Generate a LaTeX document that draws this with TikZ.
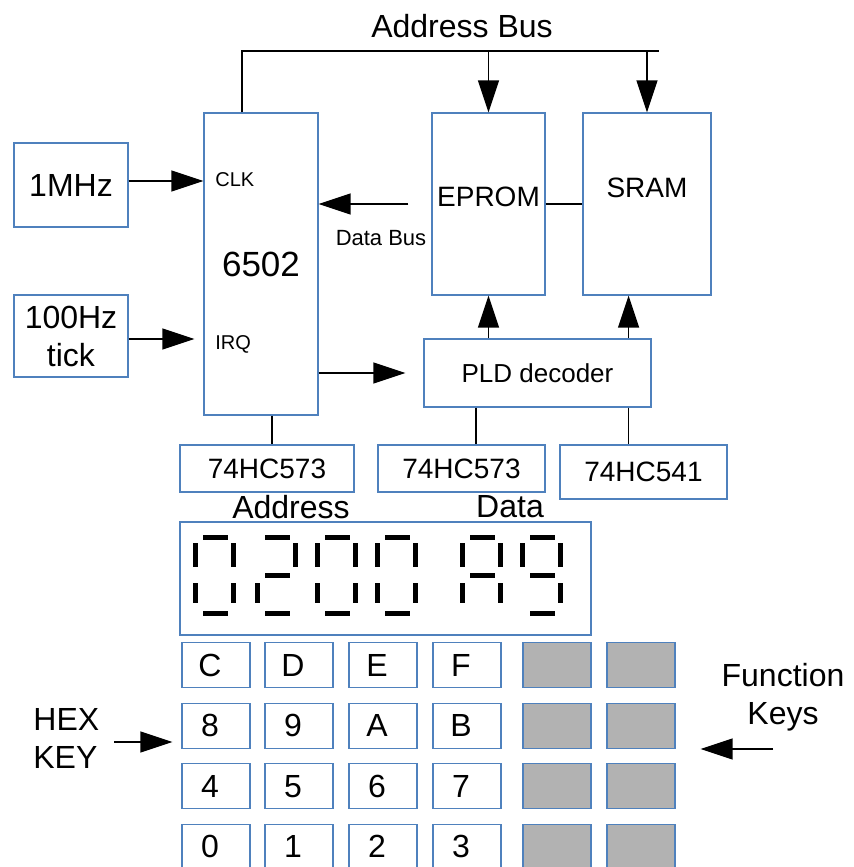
\documentclass[tikz,border=0pt]{standalone}
\usepackage{fontspec}
\setmainfont{Liberation Sans}
\usetikzlibrary{arrows.meta}
\definecolor{boxblue}{RGB}{79,129,189}
\definecolor{keygray}{RGB}{178,178,178}
\newcommand\fbig{\fontsize{16}{19}\selectfont}
\newcommand\fcpu{\fontsize{17.5}{21}\selectfont}
\newcommand\fmid{\fontsize{14}{17}\selectfont}
\newcommand\fpld{\fontsize{13}{16}\selectfont}
\newcommand\fdb{\fontsize{11}{13}\selectfont}
\newcommand\fpin{\fontsize{10}{12}\selectfont}
\tikzset{
  box/.style={draw=boxblue, line width=0.6pt, inner sep=0pt},
  key/.style={box, minimum width=34pt, minimum height=22.5pt, font=\fbig, execute at begin node=\hspace*{-6pt}},
  fkey/.style={box, fill=keygray, minimum width=34pt, minimum height=22.5pt},
  wire/.style={line width=0.65pt, black},
  arr/.style={-{Triangle[length=16pt,width=10.5pt]}},
  seg/.style={line width=2.5pt, black},
  seg a/.pic={\draw[seg] (8,0) -- (33,0);},
  seg b/.pic={\draw[seg] (38,6) -- (38,30);},
  seg c/.pic={\draw[seg] (38,46) -- (38,66);},
  seg d/.pic={\draw[seg] (8,76) -- (33,76);},
  seg e/.pic={\draw[seg] (0,46) -- (0,66);},
  seg f/.pic={\draw[seg] (0,6) -- (0,30);},
  seg g/.pic={\draw[seg] (8,38) -- (33,38);}
}
\begin{document}
\begin{tikzpicture}[x=0.5pt,y=-0.5pt]
	\useasboundingbox (0,0) rectangle (853,867);
	\clip (0,0) rectangle (853,867);
	% blocks
	\node[box, minimum width=57pt, minimum height=42pt, font=\fbig] (mhz) at (71,185) {1MHz};
	\node[box, minimum width=57pt, minimum height=41pt, font=\fbig, align=center] (tick) at (71,336) {100Hz\\tick};
	\node[box, minimum width=57pt, minimum height=151pt, font=\fcpu] (cpu) at (261,264) {6502};
	\node[box, minimum width=56.5pt, minimum height=91pt, label={[font=\fmid,yshift=3.5pt]center:EPROM}] (eprom) at (488.5,204) {};
	\node[box, minimum width=64pt, minimum height=91pt, label={[font=\fmid,yshift=8pt]center:SRAM}] (sram) at (647,204) {};
	\node[box, minimum width=113.5pt, minimum height=34pt, font=\fpld] (pld) at (537.5,373) {PLD decoder};
	\node[box, minimum width=87pt, minimum height=23.5pt, font=\fmid] (alat) at (267,468.5) {74HC573};
	\node[box, minimum width=83.5pt, minimum height=23.5pt, font=\fmid] (dlat) at (461.5,468.5) {74HC573};
	\node[box, minimum width=83.5pt, minimum height=27pt, font=\fmid] (kbuf) at (643.5,472) {74HC541};
	\node[box, minimum width=205.5pt, minimum height=56.5pt] (disp) at (385.5,578.5) {};
	% texts
	\node[font=\fbig] (abus) at (462,26) {Address Bus};
	\node[font=\fpin, anchor=west, inner sep=0pt] (clk) at (215,180) {CLK};
	\node[font=\fpin, anchor=west, inner sep=0pt] (irq) at (215,344) {IRQ};
	\node[font=\fdb] (dbus) at (381,238) {Data Bus};
	\node[font=\fbig] (addr) at (291,507) {Address};
	\node[font=\fbig] (data) at (510,507) {Data};
	\node[font=\fbig, align=left, anchor=west, inner sep=0pt] (hex) at (33,738.5) {HEX\\KEY};
	\node[font=\fbig, align=center] (fkeys) at (783,697.5) {Function\\Keys};
	% buses
	\coordinate (busl) at (242,51);
	\coordinate (busr) at (659,51);
	\draw[wire] (cpu.north -| busl) -- (busl) -- (busr);
	\draw[wire,arr] (eprom.north |- busl) -- (eprom.north);
	\draw[wire,arr] (sram.north |- busl) -- (sram.north);
	\draw[wire] (eprom.east) -- (sram.west);
	\draw[wire,arr,shorten <=11.5pt] (eprom.west) -- (eprom.west -| cpu.east);
	\draw[wire,arr] ([yshift=2pt]mhz.east) coordinate (ma) -- (ma -| cpu.west);
	\draw[wire,arr,shorten >=4.5pt] ([yshift=-1.5pt]tick.east) coordinate (ta) -- (ta -| cpu.west);
	\draw[wire,arr,shorten >=9pt] (cpu.east |- pld.west) -- (pld.west);
	\draw[wire,arr] (pld.north -| eprom.south) -- (eprom.south);
	\draw[wire,arr] ([xshift=-11.5pt]pld.north east) coordinate (ps) -- (ps |- sram.south);
	\draw[wire] ([xshift=5.5pt]cpu.south) coordinate (cs) -- (cs |- alat.north);
	\draw[wire] ([xshift=-30.75pt]pld.south) coordinate (pa) -- (pa |- dlat.north);
	\draw[wire] (ps |- pld.south) -- (ps |- kbuf.north);
	% display 0200 A9
	\foreach \dx/\segs in {195/{a,b,c,d,e,f},257/{a,b,g,e,d},317/{a,b,c,d,e,f},377/{a,b,c,d,e,f},462/{a,b,c,e,f,g},522/{a,b,c,d,f,g}}
		\foreach \s in \segs
			\pic at (\dx,537) {seg \s};
	% keypad
	\foreach \lbl [count=\i from 0] in {C,D,E,F,8,9,A,B,4,5,6,7,0,1,2,3} {
		\pgfmathtruncatemacro\row{\i/4}
		\pgfmathtruncatemacro\col{mod(\i,4)}
		\pgfmathsetmacro\kx{{216,299,383,467}[\col]}
		\node[key] (k\lbl) at (\kx,{665+60.6*\row}) {\lbl};
	}
	\foreach \row in {0,...,3}
		\foreach \col in {0,1}
			\node[fkey] (f\row\col) at ({557+84*\col},{665+60.6*\row}) {};
	\coordinate (ha) at (114,742);
	\draw[wire,arr,shorten >=4.5pt] (ha) -- (ha -| k8.west);
	\coordinate (fa) at (773,749);
	\draw[wire,arr,shorten >=12.5pt] (fa) -- (fa -| f11.east);
\end{tikzpicture}
\end{document}
